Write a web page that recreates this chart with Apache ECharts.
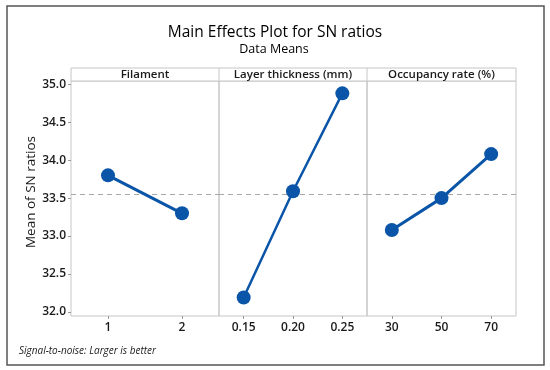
<!DOCTYPE html>
<html><head><meta charset="utf-8">
<script src="https://cdn.jsdelivr.net/npm/echarts@6/dist/echarts.min.js"></script>
<style>html,body{margin:0;padding:0;background:#fff}#c{width:550px;height:370px}</style>
</head><body><div id="c"></div>
<script>
const filamentCats = ['1', '2'];
const filamentVals = [33.80, 33.30];
const layerCats = ['0.15', '0.20', '0.25'];
const layerVals = [32.19, 33.59, 34.88];
const occupancyCats = ['30', '50', '70'];
const occupancyVals = [33.08, 33.50, 34.08];
const panelNames = ['Filament', 'Layer thickness (mm)', 'Occupancy rate (%)'];
const yTicks = [32.0, 32.5, 33.0, 33.5, 34.0, 34.5, 35.0];

const grandMean = (filamentVals[0] + filamentVals[1]) / 2;
const FONT = 'Open Sans';
const BLUE = '#0b55a8';
const GRID_C = '#c6c6c6';
const TEXT_C = '#1a1a1a';

const chart = echarts.init(document.getElementById('c'), null, {renderer: 'canvas'});

const panels = [
  {left: 71, width: 148, cats: filamentCats, vals: filamentVals, lw: 3},
  {left: 219, width: 148, cats: layerCats, vals: layerVals, lw: 2.5},
  {left: 367, width: 149, cats: occupancyCats, vals: occupancyVals, lw: 3}
];
const TOP = 81, BOTTOM = 316;

const grids = panels.map(p => ({left: p.left, top: TOP, width: p.width, height: BOTTOM - TOP,
  show: true, borderColor: GRID_C, borderWidth: 1, backgroundColor: 'transparent'}));

const xAxes = panels.map((p, i) => ({
  type: 'category', gridIndex: i, data: p.cats, boundaryGap: true,
  axisLine: {show: false},
  axisTick: {show: true, alignWithLabel: true, length: 3, lineStyle: {color: '#999'}},
  axisLabel: {color: TEXT_C, fontFamily: FONT, fontSize: 12, fontWeight: 600, margin: 6}
}));

const yAxes = panels.map((p, i) => ({
  type: 'value', gridIndex: i, min: 31.947, max: 35.043,
  splitLine: {show: false},
  axisLine: {show: false},
  axisTick: {show: i === 0, length: 3, customValues: yTicks, lineStyle: {color: '#999'}},
  axisLabel: {show: i === 0, customValues: yTicks, formatter: v => v.toFixed(1),
    color: TEXT_C, fontFamily: FONT, fontSize: 12, fontWeight: 600, margin: 5}
}));

const series = panels.map((p, i) => ({
  type: 'line', xAxisIndex: i, yAxisIndex: i, data: p.vals,
  symbol: 'circle', symbolSize: 14, z: 3,
  lineStyle: {color: BLUE, width: p.lw},
  itemStyle: {color: BLUE},
  emphasis: {disabled: true},
  animation: false,
  markLine: {silent: true, symbol: 'none', label: {show: false}, z: 1,
    lineStyle: {color: '#a8a8a8', type: [5, 4], width: 1},
    data: [{yAxis: grandMean}]}
}));

const graphic = [
  {type: 'rect', shape: {x: 7, y: 6, width: 537, height: 359}, style: {fill: 'none', stroke: '#555', lineWidth: 1.5}, z: 0},
  {type: 'rect', shape: {x: 71, y: 68, width: 445, height: 13}, style: {fill: '#fff', stroke: GRID_C, lineWidth: 1}, z: 5},
  {type: 'line', shape: {x1: 219, y1: 68, x2: 219, y2: 81}, style: {stroke: GRID_C, lineWidth: 1}, z: 5},
  {type: 'line', shape: {x1: 367, y1: 68, x2: 367, y2: 81}, style: {stroke: GRID_C, lineWidth: 1}, z: 5}
];
panels.forEach((p, i) => {
  graphic.push({type: 'text', x: p.left + p.width / 2, y: 74.5, z: 6,
    style: {text: panelNames[i], fill: TEXT_C, font: '600 11.5px "' + FONT + '"', align: 'center', verticalAlign: 'middle'}});
});
graphic.push({type: 'text', x: 275, y: 33, z: 6,
  style: {text: 'Main Effects Plot for SN ratios', fill: '#000', font: '500 15.5px "' + FONT + '"', align: 'center', verticalAlign: 'middle'}});
graphic.push({type: 'text', x: 274, y: 49, z: 6,
  style: {text: 'Data Means', fill: '#000', font: '500 12.5px "' + FONT + '"', align: 'center', verticalAlign: 'middle'}});
graphic.push({type: 'text', x: 31, y: 192, rotation: Math.PI / 2, z: 6,
  style: {text: 'Mean of SN ratios', fill: TEXT_C, font: '500 13.5px "' + FONT + '"', align: 'center', verticalAlign: 'middle'}});
graphic.push({type: 'text', x: 19, y: 351, z: 6,
  style: {text: 'Signal-to-noise: Larger is better', fill: '#222', font: 'italic 10px "' + FONT + '"', align: 'left', verticalAlign: 'middle'}});

chart.setOption({
  animation: false,
  grid: grids, xAxis: xAxes, yAxis: yAxes, series: series, graphic: graphic
});
</script></body></html>
